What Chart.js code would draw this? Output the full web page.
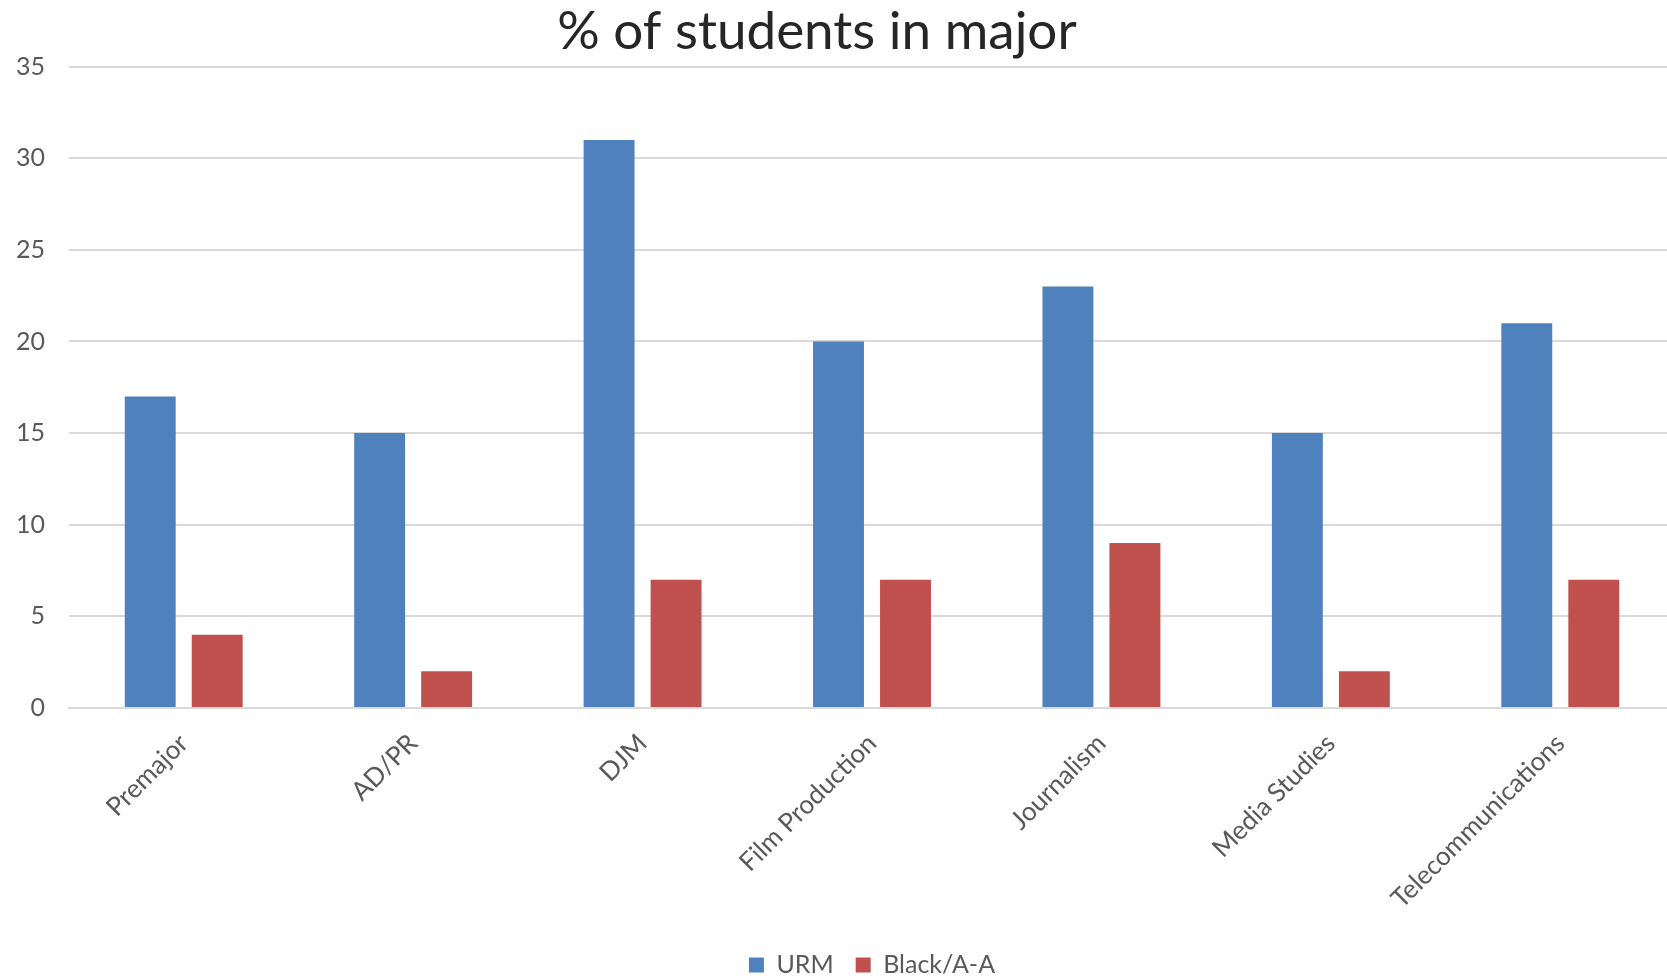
<!DOCTYPE html>
<html>
<head>
<meta charset="utf-8">
<script src="https://cdn.jsdelivr.net/npm/chart.js@4/dist/chart.umd.min.js"></script>
<style>
  html, body { margin: 0; padding: 0; background: #ffffff; overflow: hidden; }
  canvas { display: block; }
</style>
</head>
<body>
<canvas id="c" width="1675" height="980"></canvas>
<script>
const categories = ["Premajor", "AD/PR", "DJM", "Film Production", "Journalism", "Media Studies", "Telecommunications"];
const urmValues = [17, 15, 31, 20, 23, 15, 21];
const blackValues = [4, 2, 7, 7, 9, 2, 7];
const yTicks = [0, 5, 10, 15, 20, 25, 30, 35];
const seriesNames = ["URM", "Black/A-A"];
const titleText = "% of students in major";

const FONT = "Lato, 'Open Sans', sans-serif";

new Chart(document.getElementById('c'), {
  type: 'bar',
  data: {
    labels: categories,
    datasets: [
      { label: seriesNames[0], data: urmValues, backgroundColor: '#4f81bd', categoryPercentage: 0.584, barPercentage: 0.76 },
      { label: seriesNames[1], data: blackValues, backgroundColor: '#c0504d', categoryPercentage: 0.584, barPercentage: 0.76 }
    ]
  },
  options: {
    responsive: false,
    animation: false,
    layout: { padding: { left: -41, right: 0, top: 0, bottom: -7.5 } },
    plugins: {
      title: {
        display: true,
        text: titleText,
        color: '#262626',
        font: { family: FONT, size: 53, weight: 'normal' },
        padding: { top: 0, bottom: 3 }
      },
      legend: {
        position: 'bottom',
        fullSize: false,
        labels: {
          color: '#595959',
          font: { family: FONT, size: 25 },
          boxWidth: 15,
          boxHeight: 15,
          padding: 22
        }
      },
      tooltip: { enabled: false }
    },
    scales: {
      x: {
        grid: { display: false, drawTicks: false },
        border: { display: true, color: '#d9d9d9', width: 2 },
        ticks: {
          color: '#595959',
          font: { family: FONT, size: 26 },
          minRotation: 45,
          maxRotation: 45,
          autoSkip: false,
          padding: 20
        },
        afterFit(scale) { scale.height = 222.5; }
      },
      y: {
        min: 0,
        max: 35,
        afterBuildTicks(scale) { scale.ticks = yTicks.map(v => ({ value: v })); },
        grid: { color: '#d9d9d9', lineWidth: 2, drawTicks: false },
        border: { display: false },
        ticks: {
          color: '#595959',
          font: { family: FONT, size: 25 },
          padding: 24
        },
        afterFit(scale) { scale.width = 110; }
      }
    }
  }
});
</script>
</body>
</html>
